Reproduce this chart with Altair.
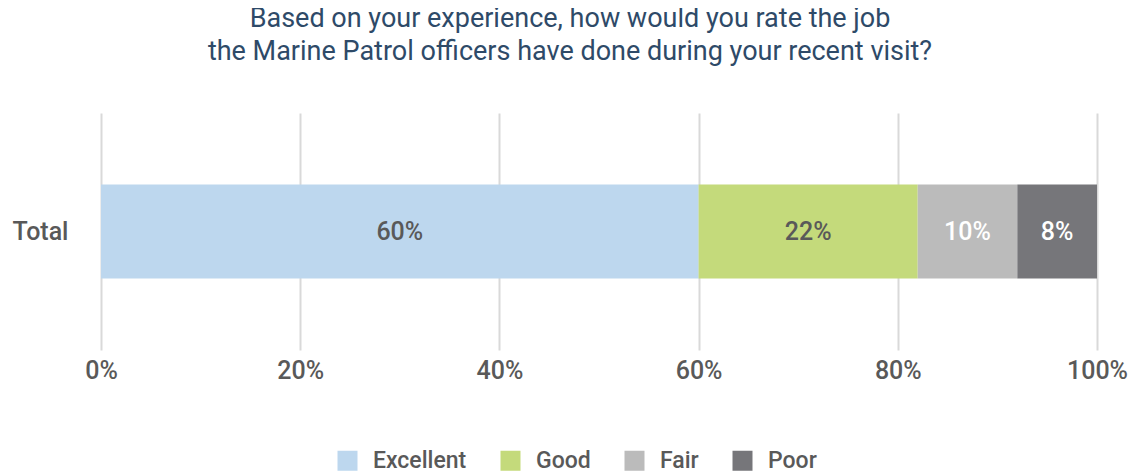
import altair as alt
import pandas as pd

categories = ["Excellent", "Good", "Fair", "Poor"]
values = [60, 22, 10, 8]
colors = ["#BDD7EE", "#C4DA7B", "#BBBBBB", "#76767A"]
label_colors = ["#595959", "#595959", "#FFFFFF", "#FFFFFF"]
group = "Total"

starts, ends = [], []
acc = 0
for v in values:
    starts.append(acc)
    acc += v
    ends.append(acc)

df = pd.DataFrame({
    "group": [group] * len(values),
    "rating": categories,
    "value": values,
    "start": starts,
    "end": ends,
    "mid": [(s + e) / 2 for s, e in zip(starts, ends)],
    "label": [f"{v}%" for v in values],
    "lc": label_colors,
    "order": list(range(len(values))),
})

FONT = "Roboto"
GREY = "#595959"

x_scale = alt.Scale(domain=[0, 100], nice=False)

bars = alt.Chart(df).mark_bar(size=94).encode(
    x=alt.X("start:Q", scale=x_scale,
            axis=alt.Axis(values=[0, 20, 40, 60, 80, 100], labelExpr="datum.value + '%'",
                          title=None, grid=True, gridColor="#D9D9D9", gridWidth=2,
                          domain=False, ticks=False, labelFontSize=25, labelColor=GREY,
                          labelFont=FONT, labelFontWeight=500, labelPadding=8,
                          labelFlush=False)),
    x2="end:Q",
    y=alt.Y("group:N", title=None,
            axis=alt.Axis(domain=False, ticks=False, labelFontSize=25, labelColor=GREY,
                          labelFont=FONT, labelFontWeight=500, labelPadding=33)),
    color=alt.Color("rating:N", scale=alt.Scale(domain=categories, range=colors),
                    sort=categories,
                    legend=alt.Legend(title=None, orient="none", direction="horizontal",
                                      legendX=235, legendY=336, symbolType="square",
                                      symbolSize=400, symbolStrokeWidth=0,
                                      labelFontSize=23, labelColor=GREY, labelFontWeight=500,
                                      labelFont=FONT, columnPadding=32, labelOffset=14)),
    order="order:Q",
)

text = alt.Chart(df).mark_text(fontSize=25, font=FONT, fontWeight=500).encode(
    x=alt.X("mid:Q", scale=x_scale),
    y=alt.Y("group:N"),
    text="label:N",
    color=alt.Color("lc:N", scale=None),
)

chart = alt.layer(bars, text).properties(
    width=996,
    height=237,
    autosize=alt.AutoSizeParams(type="none"),
    padding={"left": 93, "top": 105, "right": 39, "bottom": 125},
    title=alt.TitleParams(
        text=["Based on your experience, how would you rate the job",
              "the Marine Patrol officers have done during your recent visit?"],
        font=FONT, fontSize=27, fontWeight="normal",
        color="#2E4A68", lineHeight=33, anchor="middle", offset=47, dx=-29,
    ),
).configure_view(stroke=None)

chart.save("out.html", embed_options={"renderer": "svg", "actions": False})
